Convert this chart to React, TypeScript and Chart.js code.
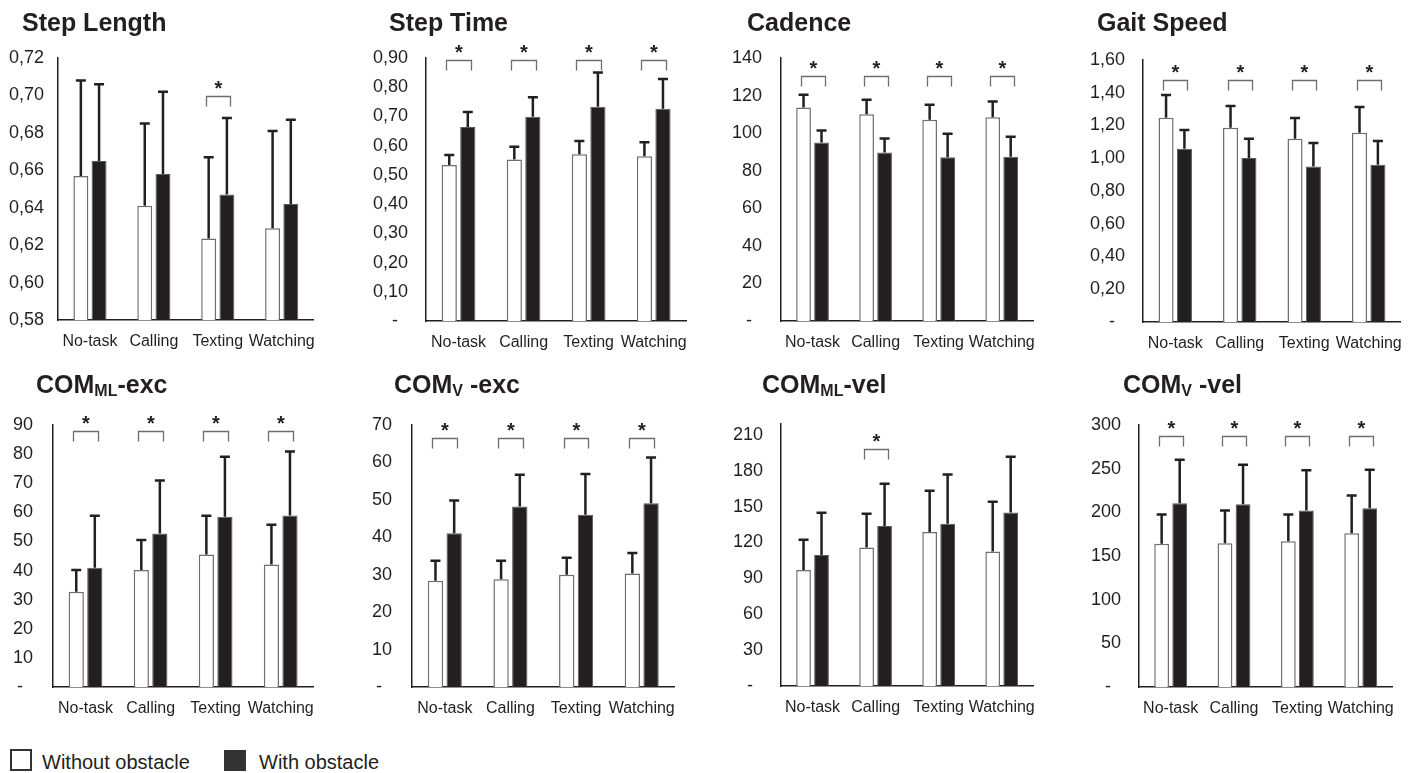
import React, { useEffect, useRef } from 'react';
import { Chart, registerables } from 'chart.js';

Chart.register(...registerables);

const FONT = '"Liberation Sans", Arial, Helvetica, sans-serif';
const INK = '#231f20';

// ---------- data ----------
const categories = ['No-task', 'Calling', 'Texting', 'Watching'];
const seriesNames = ['Without obstacle', 'With obstacle'];

const stepLengthWithout = [0.657, 0.641, 0.6235, 0.629];
const stepLengthWithoutSD = [0.051, 0.044, 0.0435, 0.052];
const stepLengthWith = [0.665, 0.658, 0.647, 0.642];
const stepLengthWithSD = [0.041, 0.044, 0.041, 0.045];
const stepLengthTicks = ['0,58', '0,60', '0,62', '0,64', '0,66', '0,68', '0,70', '0,72'];
const stepLengthSig = [false, false, true, false];

const stepTimeWithout = [0.534, 0.553, 0.571, 0.564];
const stepTimeWithoutSD = [0.034, 0.043, 0.045, 0.048];
const stepTimeWith = [0.664, 0.699, 0.733, 0.726];
const stepTimeWithSD = [0.051, 0.067, 0.117, 0.102];
const stepTimeTicks = ['-', '0,10', '0,20', '0,30', '0,40', '0,50', '0,60', '0,70', '0,80', '0,90'];
const stepTimeSig = [true, true, true, true];

const cadenceWithout = [113.7, 110.0, 107.1, 108.4];
const cadenceWithoutSD = [6.8, 7.8, 8.0, 8.5];
const cadenceWith = [95.0, 89.7, 87.2, 87.4];
const cadenceWithSD = [6.4, 7.5, 12.5, 10.7];
const cadenceTicks = ['-', '20', '40', '60', '80', '100', '120', '140'];
const cadenceSig = [true, true, true, true];

const gaitSpeedWithout = [1.248, 1.187, 1.119, 1.156];
const gaitSpeedWithoutSD = [0.138, 0.132, 0.127, 0.157];
const gaitSpeedWith = [1.058, 1.001, 0.95, 0.96];
const gaitSpeedWithSD = [0.114, 0.118, 0.143, 0.145];
const gaitSpeedTicks = ['-', '0,20', '0,40', '0,60', '0,80', '1,00', '1,20', '1,40', '1,60'];
const gaitSpeedSig = [true, true, true, true];

const comMlExcWithout = [32.7, 40.2, 45.5, 42.1];
const comMlExcWithoutSD = [7.5, 10.3, 13.3, 13.6];
const comMlExcWith = [41.0, 52.7, 58.5, 58.9];
const comMlExcWithSD = [17.8, 18.2, 20.6, 22.0];
const comMlExcTicks = ['-', '10', '20', '30', '40', '50', '60', '70', '80', '90'];
const comMlExcSig = [true, true, true, true];

const comVExcWithout = [28.4, 28.8, 30.0, 30.3];
const comVExcWithoutSD = [5.3, 4.9, 4.5, 5.5];
const comVExcWith = [41.1, 48.2, 46.0, 49.1];
const comVExcWithSD = [8.7, 8.5, 10.9, 12.2];
const comVExcTicks = ['-', '10', '20', '30', '40', '50', '60', '70'];
const comVExcSig = [true, true, true, true];

const comMlVelWithout = [96.9, 115.8, 128.7, 112.5];
const comMlVelWithoutSD = [25.3, 28.2, 34.6, 41.6];
const comMlVelWith = [109.4, 133.7, 135.6, 145.1];
const comMlVelWithSD = [35.4, 35.4, 41.1, 46.6];
const comMlVelTicks = ['-', '30', '60', '90', '120', '150', '180', '210'];
const comMlVelSig = [false, true, false, false];

const comVVelWithout = [163.9, 164.6, 166.9, 176.1];
const comVVelWithoutSD = [33.5, 37.4, 30.5, 43.1];
const comVVelWith = [210.4, 209.2, 202.0, 204.6];
const comVVelWithSD = [49.9, 45.4, 46.1, 44.3];
const comVVelTicks = ['-', '50', '100', '150', '200', '250', '300'];
const comVVelSig = [true, true, true, true];

// axis upper limits and the height of the significance brackets (data units)
const axisMax = [0.72, 0.9, 140, 1.6, 90, 70, 219, 300];
const bracketLevel = [0.6997, 0.893, 130.2, 1.475, 87.9, 66.6, 198.5, 287.4];

// ---------- layout (pixels) ----------
const YW = 60;
const PT = 50;
const XH = 40;
const PR = 10;

const layout = [
  { axisX: 58, right: 318, top: 58, bottom: 320, tickPad: 14, titleX: 22, titleTop: 10 },
  { axisX: 426, right: 690, top: 58, bottom: 320.5, tickPad: 18, titleX: 389, titleTop: 10 },
  { axisX: 781, right: 1038, top: 57.5, bottom: 320, tickPad: 19, titleX: 747, titleTop: 10 },
  { axisX: 1143, right: 1405, top: 60, bottom: 321.5, tickPad: 18, titleX: 1097, titleTop: 10 },
  { axisX: 53, right: 317, top: 424.5, bottom: 686, tickPad: 20, titleX: 36, titleTop: 372 },
  { axisX: 412, right: 678, top: 424.5, bottom: 686, tickPad: 20, titleX: 394, titleTop: 372 },
  { axisX: 781, right: 1038, top: 424, bottom: 686, tickPad: 18, titleX: 762, titleTop: 372 },
  { axisX: 1139, right: 1397, top: 424.5, bottom: 686.5, tickPad: 18, titleX: 1123, titleTop: 372 },
];

type PanelDef = {
  title: string;
  sub?: string;
  suffix?: string;
  without: number[];
  withoutSD: number[];
  withObs: number[];
  withSD: number[];
  ticks: string[];
  sig: boolean[];
};

const panels: PanelDef[] = [
  { title: 'Step Length', without: stepLengthWithout, withoutSD: stepLengthWithoutSD, withObs: stepLengthWith, withSD: stepLengthWithSD, ticks: stepLengthTicks, sig: stepLengthSig },
  { title: 'Step Time', without: stepTimeWithout, withoutSD: stepTimeWithoutSD, withObs: stepTimeWith, withSD: stepTimeWithSD, ticks: stepTimeTicks, sig: stepTimeSig },
  { title: 'Cadence', without: cadenceWithout, withoutSD: cadenceWithoutSD, withObs: cadenceWith, withSD: cadenceWithSD, ticks: cadenceTicks, sig: cadenceSig },
  { title: 'Gait Speed', without: gaitSpeedWithout, withoutSD: gaitSpeedWithoutSD, withObs: gaitSpeedWith, withSD: gaitSpeedWithSD, ticks: gaitSpeedTicks, sig: gaitSpeedSig },
  { title: 'COM', sub: 'ML', suffix: '-exc', without: comMlExcWithout, withoutSD: comMlExcWithoutSD, withObs: comMlExcWith, withSD: comMlExcWithSD, ticks: comMlExcTicks, sig: comMlExcSig },
  { title: 'COM', sub: 'V', suffix: ' -exc', without: comVExcWithout, withoutSD: comVExcWithoutSD, withObs: comVExcWith, withSD: comVExcWithSD, ticks: comVExcTicks, sig: comVExcSig },
  { title: 'COM', sub: 'ML', suffix: '-vel', without: comMlVelWithout, withoutSD: comMlVelWithoutSD, withObs: comMlVelWith, withSD: comMlVelWithSD, ticks: comMlVelTicks, sig: comMlVelSig },
  { title: 'COM', sub: 'V', suffix: ' -vel', without: comVVelWithout, withoutSD: comVVelWithoutSD, withObs: comVVelWith, withSD: comVVelWithSD, ticks: comVVelTicks, sig: comVVelSig },
];

const tickValue = (s: string) => (s === '-' ? 0 : parseFloat(s.replace(',', '.')));
const tickText = (s: string) => (s === '-' ? '-  ' : s);

const errorPlugin = {
  id: 'errorBars',
  afterDatasetsDraw(chart: any, _args: any, opts: any) {
    const ctx = chart.ctx as CanvasRenderingContext2D;
    const y = chart.scales.y;
    ctx.save();
    // error bars (mean + SD)
    (opts.sd as number[][]).forEach((sds, di) => {
      const meta = chart.getDatasetMeta(di);
      const data = chart.data.datasets[di].data as number[];
      meta.data.forEach((bar: any, i: number) => {
        const yMean = y.getPixelForValue(data[i]);
        const yTop = y.getPixelForValue(data[i] + sds[i]);
        ctx.strokeStyle = INK;
        ctx.lineWidth = 2.5;
        ctx.lineCap = 'butt';
        ctx.beginPath();
        ctx.moveTo(bar.x, yMean);
        ctx.lineTo(bar.x, yTop);
        ctx.moveTo(bar.x - 5, yTop);
        ctx.lineTo(bar.x + 5, yTop);
        ctx.stroke();
      });
    });
    // significance brackets
    const m0 = chart.getDatasetMeta(0);
    const m1 = chart.getDatasetMeta(1);
    const by = Math.round(y.getPixelForValue(opts.bracketLevel)) + 0.5;
    (opts.sig as boolean[]).forEach((s, i) => {
      if (!s) return;
      const x0 = Math.round(m0.data[i].x - 3) + 0.5;
      const x1 = Math.round(m1.data[i].x + 3) + 0.5;
      ctx.strokeStyle = '#6d6e71';
      ctx.lineWidth = 1.3;
      ctx.beginPath();
      ctx.moveTo(x0, by + 10);
      ctx.lineTo(x0, by);
      ctx.lineTo(x1, by);
      ctx.lineTo(x1, by + 10);
      ctx.stroke();
      ctx.fillStyle = INK;
      ctx.font = `bold 20px ${FONT}`;
      ctx.textAlign = 'center';
      ctx.textBaseline = 'alphabetic';
      ctx.fillText('*', (x0 + x1) / 2, by - 2);
    });
    ctx.restore();
  },
};

function Panel({ def, idx }: { def: PanelDef; idx: number }) {
  const ref = useRef<HTMLCanvasElement | null>(null);
  const L = layout[idx];
  const left = L.axisX - YW;
  const top = L.top - PT;
  const width = Math.round(YW + (L.right - L.axisX) + PR);
  const height = Math.round(PT + (L.bottom - L.top) + XH);

  useEffect(() => {
    if (!ref.current) return;
    const values = def.ticks.map(tickValue);
    const chart = new Chart(ref.current, {
      type: 'bar',
      data: {
        labels: categories,
        datasets: [
          {
            label: seriesNames[0],
            data: def.without,
            backgroundColor: '#ffffff',
            borderColor: '#6d6e71',
            borderWidth: 1.5,
            categoryPercentage: 0.57,
            barPercentage: 0.82,
          },
          {
            label: seriesNames[1],
            data: def.withObs,
            backgroundColor: INK,
            borderColor: '#58595b',
            borderWidth: 1,
            categoryPercentage: 0.57,
            barPercentage: 0.82,
          },
        ],
      },
      options: {
        responsive: false,
        animation: false,
        devicePixelRatio: 1,
        layout: { padding: { top: PT, right: PR, left: 0, bottom: 0 } },
        plugins: {
          legend: { display: false },
          tooltip: { enabled: false },
          title: { display: false },
          errorBars: {
            sd: [def.withoutSD, def.withSD],
            sig: def.sig,
            bracketLevel: bracketLevel[idx],
          },
        } as any,
        scales: {
          x: {
            grid: { display: false, drawTicks: false },
            border: { display: true, color: INK, width: 1.5 },
            ticks: {
              font: { family: FONT, size: 16 },
              color: INK,
              padding: 12,
              maxRotation: 0,
              autoSkip: false,
            },
            afterFit: (s: any) => {
              s.height = XH;
            },
          },
          y: {
            min: values[0],
            max: axisMax[idx],
            grid: { display: false, drawTicks: false },
            border: { display: true, color: INK, width: 1.5 },
            ticks: {
              font: { family: FONT, size: 18 },
              color: INK,
              padding: L.tickPad,
              callback: (_v: any, i: number) => tickText(def.ticks[i]),
            },
            afterBuildTicks: (s: any) => {
              s.ticks = values.map((v) => ({ value: v }));
            },
            afterFit: (s: any) => {
              s.width = YW;
            },
          },
        },
      } as any,
      plugins: [errorPlugin as any],
    });
    return () => chart.destroy();
  }, []);

  return (
    <>
      <canvas
        ref={ref}
        width={width}
        height={height}
        style={{ position: 'absolute', left, top, width, height }}
      />
      <div
        style={{
          position: 'absolute',
          left: L.titleX,
          top: L.titleTop,
          fontFamily: FONT,
          fontWeight: 'bold',
          fontSize: '25px',
          lineHeight: '25px',
          color: INK,
          whiteSpace: 'pre',
        }}
      >
        {def.title}
        {def.sub ? (
          <span style={{ fontSize: '16px', position: 'relative', top: '3px' }}>{def.sub}</span>
        ) : null}
        {def.suffix || ''}
      </div>
    </>
  );
}

export default function App() {
  return (
    <div
      style={{
        position: 'absolute',
        left: 0,
        top: 0,
        width: 1422,
        height: 773,
        background: '#ffffff',
        overflow: 'hidden',
      }}
    >
      {panels.map((p, i) => (
        <Panel key={i} def={p} idx={i} />
      ))}
      <div
        style={{
          position: 'absolute',
          left: 10,
          top: 749,
          width: 22,
          height: 22,
          boxSizing: 'border-box',
          border: '2px solid #333333',
          background: '#ffffff',
        }}
      />
      <div
        style={{
          position: 'absolute',
          left: 42,
          top: 752,
          fontFamily: FONT,
          fontSize: '20px',
          lineHeight: '20px',
          color: INK,
          whiteSpace: 'pre',
        }}
      >
        {seriesNames[0]}
      </div>
      <div
        style={{
          position: 'absolute',
          left: 224,
          top: 750,
          width: 22,
          height: 21,
          background: '#333333',
        }}
      />
      <div
        style={{
          position: 'absolute',
          left: 259,
          top: 752,
          fontFamily: FONT,
          fontSize: '20px',
          lineHeight: '20px',
          color: INK,
          whiteSpace: 'pre',
        }}
      >
        {seriesNames[1]}
      </div>
    </div>
  );
}
